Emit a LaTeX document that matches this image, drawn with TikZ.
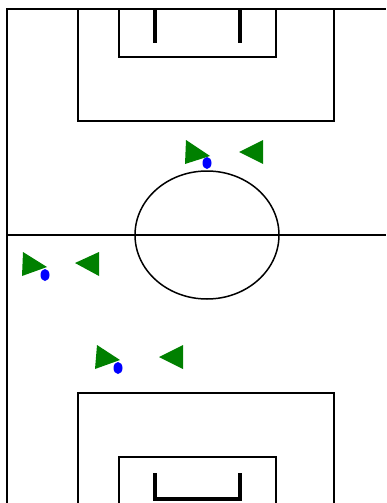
\documentclass[tikz,border=0pt]{standalone}
\usetikzlibrary{shapes.geometric}
\definecolor{playergreen}{RGB}{0,128,0}
\tikzset{
  fieldline/.style={draw=black, line width=1.5pt},
  goalline/.style={draw=black, line width=4.3pt},
  player/.style={fill=playergreen},
  ballstyle/.style={fill=blue}
}
\begin{document}
\begin{tikzpicture}[x=1pt,y=-1pt]
\useasboundingbox (0,0) rectangle (386,503);
% field outline
\draw[fieldline] (7,503) -- (7,9) -- (386,9);
% halfway line
\draw[fieldline] (7,235) -- (386,235);
% centre circle
\draw[fieldline] (207,235) ellipse [x radius=72, y radius=64];
% top penalty area and goal area
\draw[fieldline] (78,9) rectangle (334,121);
\draw[fieldline] (119,9) rectangle (276,57);
\draw[goalline] (155,10) -- (155,43);
\draw[goalline] (240,10) -- (240,43);
% bottom penalty area and goal area
\draw[fieldline] (78,510) -- (78,393) -- (334,393) -- (334,510);
\draw[fieldline] (119,510) -- (119,457) -- (276,457) -- (276,510);
\draw[goalline] (155,473) -- (155,499) -- (240,499) -- (240,473);
% top group
\fill[player] (186,140) -- (185,164) -- (210,156) -- cycle;
\fill[player] (263,140) -- (263,164) -- (239,152) -- cycle;
\fill[ballstyle] (207,163) ellipse [x radius=4.5, y radius=6];
% middle group
\fill[player] (23,252) -- (22,276) -- (47,267) -- cycle;
\fill[player] (99,252) -- (99,276) -- (75,263) -- cycle;
\fill[ballstyle] (45,275) ellipse [x radius=4.5, y radius=6];
% bottom group
\fill[player] (97,345) -- (95,369) -- (120,360) -- cycle;
\fill[player] (183,345) -- (183,369) -- (159,357) -- cycle;
\fill[ballstyle] (118,368) ellipse [x radius=4.5, y radius=6];
\end{tikzpicture}
\end{document}
